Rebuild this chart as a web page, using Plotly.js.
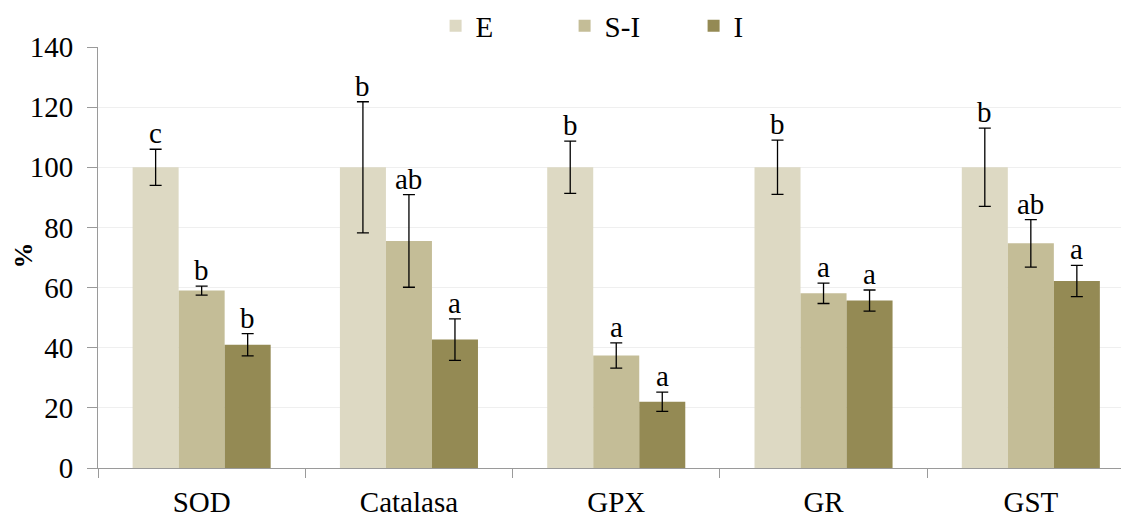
<!DOCTYPE html>
<html>
<head>
<meta charset="utf-8">
<script src="https://cdn.plot.ly/plotly-3.0.1.min.js"></script>
<style>html,body{margin:0;padding:0;background:#fff;font-family:"Times New Roman";}#chart{width:1121px;height:515px;}</style>
</head>
<body>
<div id="chart"></div>
<script>
var categories = ['SOD', 'Catalasa', 'GPX', 'GR', 'GST'];
var seriesNames = ['E', 'S-I', 'I'];
var valuesE  = [100, 100, 100, 100, 100];
var valuesSI = [59.0, 75.5, 37.4, 58.1, 74.7];
var valuesI  = [41.0, 42.7, 22.0, 55.7, 62.2];
var errE  = [6.0, 21.8, 8.7, 9.0, 13.0];
var errSI = [1.5, 15.4, 4.2, 3.4, 7.9];
var errI  = [3.7, 6.9, 3.2, 3.5, 5.2];
var lettersE  = ['c', 'b', 'b', 'b', 'b'];
var lettersSI = ['b', 'ab', 'a', 'a', 'ab'];
var lettersI  = ['b', 'a', 'a', 'a', 'a'];
var yTicks = [0, 20, 40, 60, 80, 100, 120, 140];
var yTitle = '%';

var colors = ['#DDD9C3', '#C4BD97', '#948A54'];
var FONT = 'Times New Roman';
var FS = 29;

var values = [valuesE, valuesSI, valuesI];
var errs = [errE, errSI, errI];
var letters = [lettersE, lettersSI, lettersI];

var BARGAP = 0.334;
var barW = (1 - BARGAP) / 3;

var traces = values.map(function (v, i) {
  return {
    type: 'bar',
    name: seriesNames[i],
    x: categories,
    y: v,
    marker: {color: colors[i]},
    error_y: {type: 'data', array: errs[i], visible: true, color: '#000000', thickness: 1.3, width: 6}
  };
});

var annotations = [];
values.forEach(function (v, i) {
  v.forEach(function (val, j) {
    annotations.push({
      x: j + (i - 1) * barW,
      y: val + errs[i][j],
      xref: 'x', yref: 'y',
      text: letters[i][j],
      showarrow: false,
      xanchor: 'center', yanchor: 'bottom',
      yshift: -2,
      font: {family: FONT, size: FS, color: '#000'}
    });
  });
});
annotations.push({
  x: -0.0733, y: 0.505, xref: 'paper', yref: 'paper',
  text: '<b>' + yTitle + '</b>', textangle: -90, showarrow: false,
  xanchor: 'center', yanchor: 'middle',
  font: {family: FONT, size: 26, color: '#000'}
});

var layout = {
  width: 1121, height: 515,
  margin: {l: 98, r: 0, t: 44, b: 47, pad: 0},
  paper_bgcolor: '#ffffff', plot_bgcolor: '#ffffff',
  font: {family: FONT, size: FS, color: '#000'},
  barmode: 'group', bargap: BARGAP, bargroupgap: 0,
  showlegend: true,
  legend: {
    orientation: 'h', x: 0.33, xanchor: 'left', y: 1.05, yanchor: 'middle',
    font: {family: FONT, size: FS, color: '#000'},
    entrywidth: 84, entrywidthmode: 'pixels',
    traceorder: 'normal'
  },
  xaxis: {
    type: 'category', range: [-0.5, 4.435], autorange: false,
    showline: true, linecolor: '#9a9a9a', linewidth: 1,
    ticks: 'outside', tickson: 'boundaries', ticklen: 9, tickcolor: '#9a9a9a', tickwidth: 1,
    showgrid: false, zeroline: false,
    tickfont: {family: FONT, size: FS, color: '#000'},
    ticklabelstandoff: 8
  },
  yaxis: {
    range: [0, 140], autorange: false,
    tickvals: yTicks, ticktext: yTicks.map(String),
    showline: true, linecolor: '#9a9a9a', linewidth: 1,
    ticks: 'outside', ticklen: 10, tickcolor: '#9a9a9a', tickwidth: 1,
    showgrid: true, gridcolor: '#efefef', gridwidth: 1,
    zeroline: false,
    tickfont: {family: FONT, size: FS, color: '#000'},
    ticklabelstandoff: 8,
    automargin: false
  },
  annotations: annotations
};

function draw() {
  return Plotly.newPlot('chart', traces, layout, {displayModeBar: false});
}
var fontReady = (document.fonts && document.fonts.load)
  ? document.fonts.load('29px "Times New Roman"').catch(function () {})
  : Promise.resolve();
fontReady.then(draw).then(function () {
  setTimeout(function () { Plotly.react('chart', traces, layout, {displayModeBar: false}); }, 30);
});
</script>
</body>
</html>
